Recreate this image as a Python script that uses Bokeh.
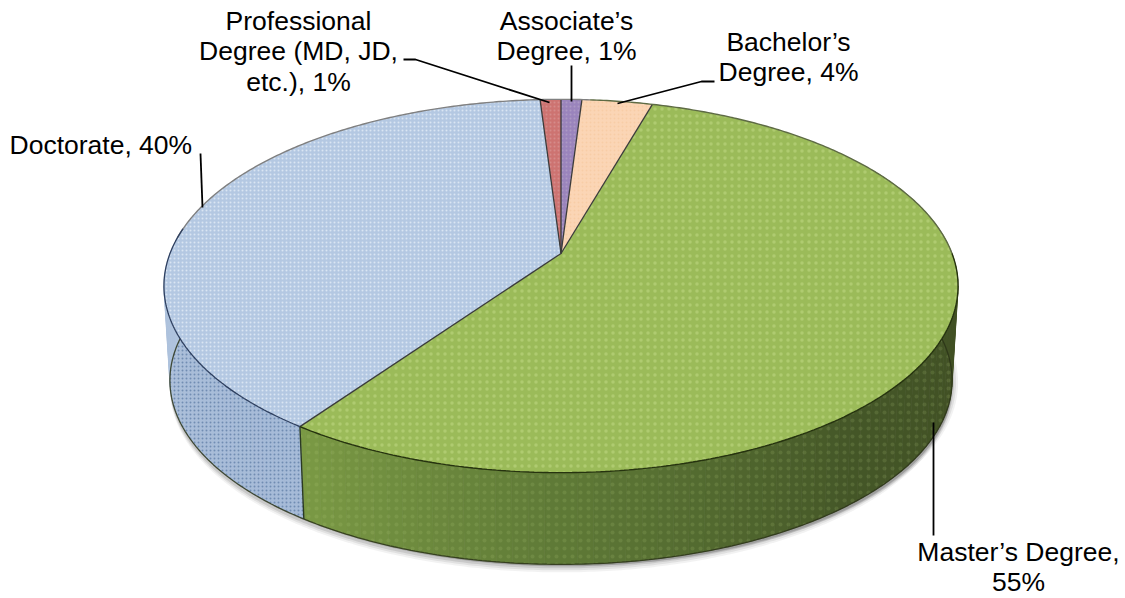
import numpy as np
from bokeh.plotting import figure
from bokeh.embed import file_html
from bokeh.resources import INLINE
from bokeh.core.properties import value

categories = ["Associate's Degree", "Bachelor's Degree", "Master's Degree", "Doctorate", "Professional Degree"]
shares = [1.0, 3.4, 55.3, 39.3, 1.0]
top_colors = ["#9a84bc", "#fbd5b5", "#9bbb59", "#b4c8e2", "#cd7371"]
hatch_colors = ["#b3a2c7", "#f6c9a0", "#c8de8c", "#eaf1fa", "#d99694"]
hatch_kinds = ["dot", "dot", "dot", "dot", "dot"]
label_lines = [
    ["Professional", "Degree (MD, JD,", "etc.), 1%"],
    ["Associate\u2019s", "Degree, 1%"],
    ["Bachelor\u2019s", "Degree, 4%"],
    ["Doctorate, 40%"],
    ["Master\u2019s Degree,", "55%"],
]

# projection of the tilted disc
CX, CY = 560.5, 253.0
R, H, K = 391.0, 181.0, 0.174
DROP, SHRINK = 95.0, 0.985


def project(theta, f=1.0, drop=0.0):
    u, v = np.sin(theta), np.cos(theta)
    s = 1.0 / (1.0 + K * v)
    return CX + f * R * u * s, CY + drop - f * H * v * s


def arc(a, b, f=1.0, drop=0.0):
    t = np.linspace(a, b, max(int(abs(b - a) / 0.01), 3))
    return project(t, f, drop)


p = figure(width=1125, height=598, x_range=(0, 1125), y_range=(598, 0),
           output_backend="svg", toolbar_location=None, min_border=0,
           outline_line_color=None, background_fill_color="white")
p.axis.visible = False
p.grid.visible = False

ends = np.cumsum(shares) / np.sum(shares) * 2 * np.pi
starts = np.concatenate([[0.0], ends[:-1]])
idx_master, idx_doc = 2, 3
split = starts[idx_doc]

# soft shadow
for off, alpha in [(6, 0.05), (4, 0.07), (2, 0.10)]:
    sx, sy = arc(np.radians(45), np.radians(315), SHRINK, DROP + 2)
    p.patch(sx + 0, sy + off, fill_color="#000000", fill_alpha=alpha, line_color=None)
    p.patch(sx + off, sy, fill_color="#000000", fill_alpha=alpha, line_color=None)

# side wall, drawn from angular strips with a shading ramp
stops_t = np.r_[np.radians([60, 100, 140, 180]), split, split + 1e-4, np.radians([240, 270, 300])]
stops_rgb = np.array([
    [0x3c, 0x4a, 0x20], [0x41, 0x50, 0x24], [0x45, 0x57, 0x28], [0x5f, 0x7a, 0x37], [0x7b, 0x9a, 0x45],
    [0xa6, 0xbb, 0xd8], [0xaa, 0xbe, 0xda], [0xb0, 0xc4, 0xde], [0xb8, 0xca, 0xe2],
])
edges = np.unique(np.r_[np.radians(np.arange(60, 300, 2.0)), split])
for a, b in zip(edges[:-1], edges[1:]):
    mid = 0.5 * (a + b)
    rgb = [int(np.interp(mid, stops_t, stops_rgb[:, i])) for i in range(3)]
    col = "#%02x%02x%02x" % tuple(rgb)
    x1, y1 = project(np.array([a, b]))
    x2, y2 = project(np.array([b, a]), SHRINK, DROP)
    p.patch(np.r_[x1, x2], np.r_[y1, y2], fill_color=col, line_color=col, line_width=0.6)

# side wall outlines and texture
for i, hc, alpha, kind in [(idx_master, "#b6cf7a", 0.16, "dot"), (idx_doc, "#5a79a3", 0.7, "dot")]:
    a, b = starts[i], min(ends[i], np.radians(300))
    a = max(a, np.radians(60))
    x1, y1 = arc(a, b)
    x2, y2 = arc(b, a, SHRINK, DROP)
    p.patch(np.r_[x1, x2], np.r_[y1, y2], fill_alpha=0, line_color=None,
            hatch_pattern=kind, hatch_color=hc, hatch_alpha=alpha, hatch_scale=8 if i == idx_master else 4,
            hatch_weight=1)
bx, by = arc(np.radians(62), np.radians(298), SHRINK, DROP)
p.line(bx, by, line_color="#2c3418", line_width=1.3, line_alpha=0.85)
cx0, cy0 = project(split)
cx1, cy1 = project(split, SHRINK, DROP)
p.line([cx0, cx1], [cy0, cy1], line_color="#2b3a22", line_width=1.4)

# top face
for i in range(len(shares)):
    ax, ay = arc(starts[i], ends[i])
    xs = np.r_[CX, ax]
    ys = np.r_[CY, ay]
    p.patch(xs, ys, fill_color=top_colors[i], line_color=None,
            hatch_pattern=hatch_kinds[i], hatch_color=hatch_colors[i],
            hatch_alpha=0.45 if i == idx_master else 0.7, hatch_scale=7 if i == idx_master else 4, hatch_weight=1)

# slice borders and rim
for i in range(len(shares)):
    ex, ey = project(starts[i])
    p.line([CX, ex], [CY, ey], line_color="#3b3b3b", line_width=1.3)
rx, ry = arc(np.radians(275), np.radians(365))
p.line(rx, ry, line_color="#808080", line_width=1.4)
rx, ry = arc(np.radians(5), np.radians(90))
p.line(rx, ry, line_color="#5e6b44", line_width=1.4)
rx, ry = arc(np.radians(90), split)
p.line(rx, ry, line_color="#26330f", line_width=1.4)
rx, ry = arc(split, np.radians(278))
p.line(rx, ry, line_color="#2f4060", line_width=1.3)

# leader lines
for lx, ly in [
    ([549, 415, 403], [102, 59, 59]),
    ([571, 571], [101, 65]),
    ([617, 701, 714], [103, 81, 81]),
    ([202, 200], [207, 153]),
    ([933, 933], [422, 535]),
]:
    p.line(lx, ly, line_color="#000000", line_width=1.8)

# labels
anchors = [(298, 20, "center"), (566, 20, "center"), (788, 41, "center"), (9, 144, "left"), (1018, 551, "center")]
for lines, (ax_, ay_, al) in zip(label_lines, anchors):
    ys = [ay_ + 30.5 * n for n in range(len(lines))]
    p.text([ax_] * len(lines), ys, text=lines, text_align=al, text_baseline="alphabetic",
           text_font=value("Liberation Sans"), text_font_size="26.5px", text_color="#000000")

open("out.html", "w").write(file_html(p, INLINE))
